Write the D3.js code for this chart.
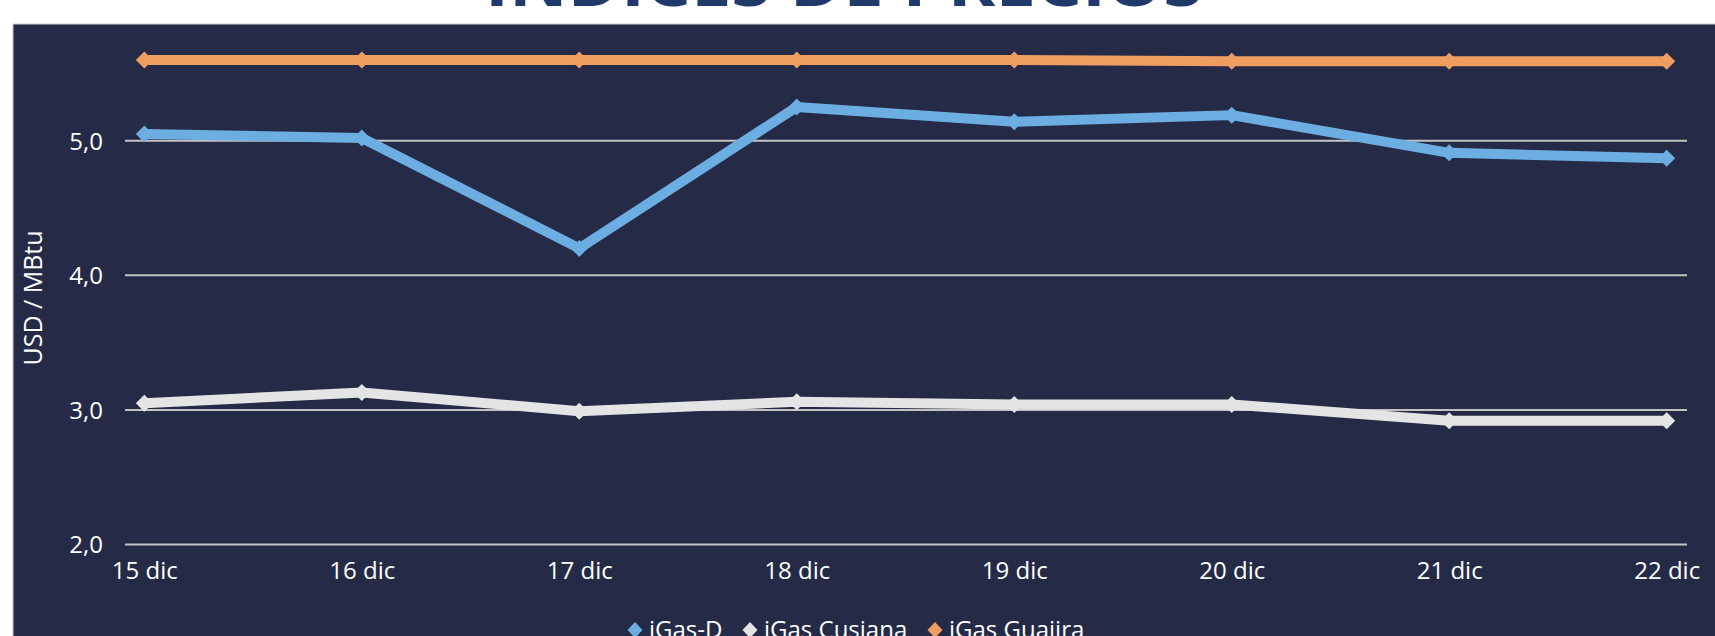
<!DOCTYPE html>
<html><head><meta charset="utf-8">
<script src="https://cdn.jsdelivr.net/npm/d3@7"></script>
<style>
html,body{margin:0;padding:0;background:#fff;overflow:hidden}
text{font-family:"Open Sans",sans-serif}
</style></head>
<body>
<svg id="c" width="1715" height="636"></svg>
<script>
const categories = ["15 dic","16 dic","17 dic","18 dic","19 dic","20 dic","21 dic","22 dic"];
const iGasD = [5.05, 5.02, 4.20, 5.25, 5.14, 5.19, 4.91, 4.87];
const iGasCusiana = [3.05, 3.13, 2.99, 3.06, 3.04, 3.04, 2.92, 2.92];
const iGasGuajira = [5.60, 5.60, 5.60, 5.60, 5.60, 5.59, 5.59, 5.59];
const yTicks = [2, 3, 4, 5];
const seriesNames = ["iGas-D", "iGas Cusiana", "iGas Guajira"];
const colors = ["#6cade2", "#e4e4e4", "#f09d62"];

const svg = d3.select("#c");
svg.append("rect").attr("x",13).attr("y",24).attr("width",1715).attr("height",700)
  .attr("fill","#252b47").attr("stroke","#c9c9c9").attr("stroke-width",1);

svg.append("text").attr("x",844).attr("y",6).attr("text-anchor","middle")
  .attr("font-size",64).attr("font-weight",700).attr("fill","#1f3a6b")
  .attr("textLength",718).attr("lengthAdjust","spacingAndGlyphs")
  .text("INDICES DE PRECIOS");

const x = d3.scalePoint().domain(categories).range([144.3, 1666.7]);
const y = d3.scaleLinear().domain([2, 5.6]).range([544.5, 544.5 - 3.6*134.6]);

const grid = svg.append("g");
grid.selectAll("line").data(yTicks).join("line")
  .attr("x1",125).attr("x2",1687).attr("y1",d=>y(d)).attr("y2",d=>y(d))
  .attr("stroke","#c3c3c3").attr("stroke-width",2);

const fmt = d => d.toFixed(1).replace(".", ",");
const yAxis = svg.append("g").attr("transform","translate(103,0)")
  .call(d3.axisLeft(y).tickValues(yTicks).tickFormat(fmt).tickSize(0).tickPadding(0));
yAxis.select(".domain").remove();
yAxis.selectAll("text").attr("fill","#ffffff").attr("font-size",24).attr("font-family","Open Sans").attr("dy","0.35em");

const xAxis = svg.append("g").attr("transform","translate(0,556)")
  .call(d3.axisBottom(x).tickSize(0).tickPadding(0));
xAxis.select(".domain").remove();
xAxis.selectAll("text").attr("fill","#ffffff").attr("font-size",24).attr("font-family","Open Sans").attr("dy","0.95em");

svg.append("text").attr("transform","translate(42,298) rotate(-90)")
  .attr("text-anchor","middle").attr("font-size",25).attr("fill","#ffffff")
  .text("USD / MBtu");

const allSeries = [iGasD, iGasCusiana, iGasGuajira];
const line = d3.line().x((d,i)=>x(categories[i])).y(d=>y(d));
const diamond = "M0,-8.5L8.5,0L0,8.5L-8.5,0Z";
const order = [1, 0, 2];
order.forEach(si => {
  const data = allSeries[si];
  svg.append("path").datum(data).attr("d", line).attr("fill","none")
    .attr("stroke", colors[si]).attr("stroke-width", 10).attr("stroke-linejoin","round");
  svg.append("g").selectAll("path").data(data).join("path")
    .attr("d", diamond)
    .attr("transform",(d,i)=>`translate(${x(categories[i])},${y(d)})`)
    .attr("fill", colors[si]);
});

// legend
const legend = svg.append("g").attr("transform","translate(0,638)");
const legX = [635, 750, 935];
seriesNames.forEach((n,i) => {
  legend.append("path").attr("d","M0,-8L7.5,0L0,8L-7.5,0Z")
    .attr("transform",`translate(${legX[i]},-8)`).attr("fill",colors[i]);
  legend.append("text").attr("x",legX[i]+14).attr("y",0).attr("font-size",24).attr("fill","#ffffff").text(n);
});
</script>
</body></html>
